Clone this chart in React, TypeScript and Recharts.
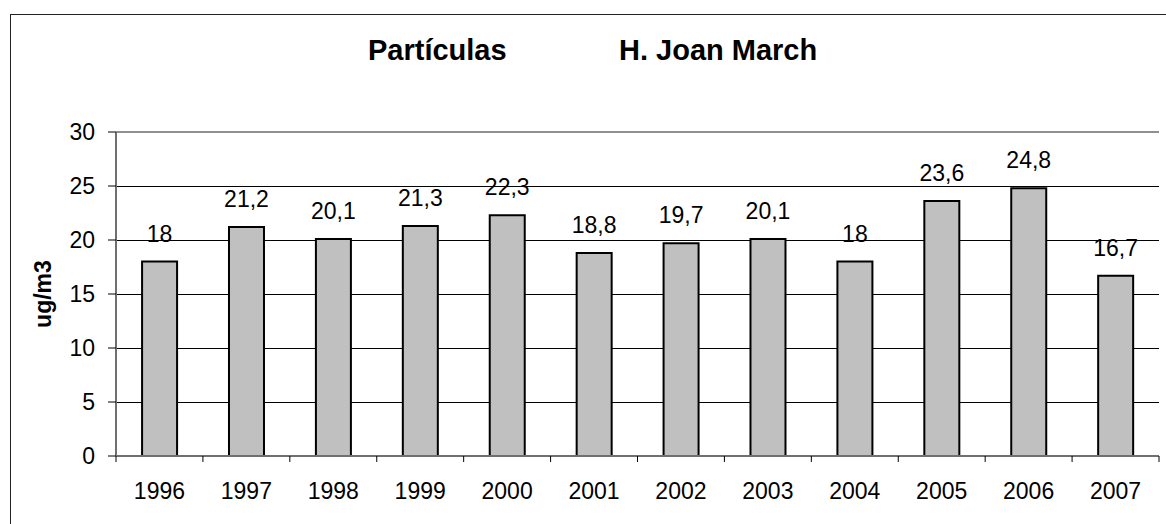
import React from "react";
import {
  BarChart,
  Bar,
  XAxis,
  YAxis,
  CartesianGrid,
  LabelList,
  ReferenceLine
} from "recharts";

const years = ["1996", "1997", "1998", "1999", "2000", "2001", "2002", "2003", "2004", "2005", "2006", "2007"];
const values = [18, 21.2, 20.1, 21.3, 22.3, 18.8, 19.7, 20.1, 18, 23.6, 24.8, 16.7];
const yTicks = [0, 5, 10, 15, 20, 25, 30];

const data = years.map((year, i) => ({ year, value: values[i] }));

const font = "'Liberation Sans', Arial, sans-serif";
const axisGray = "#707070";

const XTick = (props: any) => {
  const { x, y, payload, index } = props;
  const half = payload?.offset ?? 43.5;
  const axisY = y - 27;
  return (
    <g>
      <line x1={x - half} x2={x - half} y1={axisY} y2={axisY + 6} stroke="#000" />
      {index === years.length - 1 && (
        <line x1={x + half} x2={x + half} y1={axisY} y2={axisY + 6} stroke="#000" />
      )}
      <text x={x} y={y} dy="0.71em" textAnchor="middle" fill="#000" fontSize={23} fontFamily={font}>
        {payload.value}
      </text>
    </g>
  );
};

const titleStyle: React.CSSProperties = {
  position: "absolute",
  top: 34,
  fontFamily: font,
  fontWeight: "bold",
  fontSize: 29,
  color: "#000",
  whiteSpace: "nowrap"
};

export default function App() {
  return (
    <div style={{ position: "fixed", left: 0, top: 0, width: 1166, height: 524, overflow: "hidden", background: "#fff" }}>
      <div style={{ position: "absolute", left: 10, top: 14, width: 1200, height: 600, border: "1px solid #222" }} />
      <div style={{ ...titleStyle, left: 368 }}>Partículas</div>
      <div style={{ ...titleStyle, left: 619 }}>H. Joan March</div>
      <div style={{ position: "absolute", left: 0, top: 0 }}>
        <BarChart
          width={1166}
          height={524}
          data={data}
          margin={{ top: 132, right: 7, left: 10, bottom: 20 }}
          barCategoryGap="30%"
        >
          <CartesianGrid vertical={false} stroke="#000" strokeWidth={1} shapeRendering="crispEdges" />
          <XAxis
            dataKey="year"
            height={48}
            tickSize={6}
            tickMargin={21}
            tickLine={false}
            axisLine={{ stroke: axisGray, strokeWidth: 2 }}
            tick={<XTick />}
            interval={0}
          />
          <YAxis
            width={106}
            domain={[0, 30]}
            ticks={yTicks}
            interval={0}
            tickSize={8}
            tickMargin={13}
            tickLine={{ stroke: "#000" }}
            axisLine={{ stroke: axisGray, strokeWidth: 2 }}
            tick={{ fill: "#000", fontSize: 23, fontFamily: font }}
            label={{
              value: "ug/m3",
              angle: -90,
              position: "insideLeft",
              offset: 33,
              fill: "#000",
              fontSize: 23,
              fontWeight: "bold",
              fontFamily: font,
              style: { textAnchor: "middle" }
            }}
          />
          <YAxis
            yAxisId="right"
            orientation="right"
            width={0}
            domain={[0, 30]}
            tick={false}
            tickLine={false}
            axisLine={{ stroke: "#909090", strokeWidth: 2 }}
          />
          <ReferenceLine y={30} stroke="#909090" strokeWidth={2} />
          <Bar dataKey="value" fill="#C0C0C0" stroke="#000" strokeWidth={2} isAnimationActive={false}>
            <LabelList
              dataKey="value"
              position="top"
              offset={20}
              fill="#000"
              fontSize={23}
              fontFamily={font}
              formatter={(v: any) => String(v).replace(".", ",")}
            />
          </Bar>
        </BarChart>
      </div>
    </div>
  );
}
